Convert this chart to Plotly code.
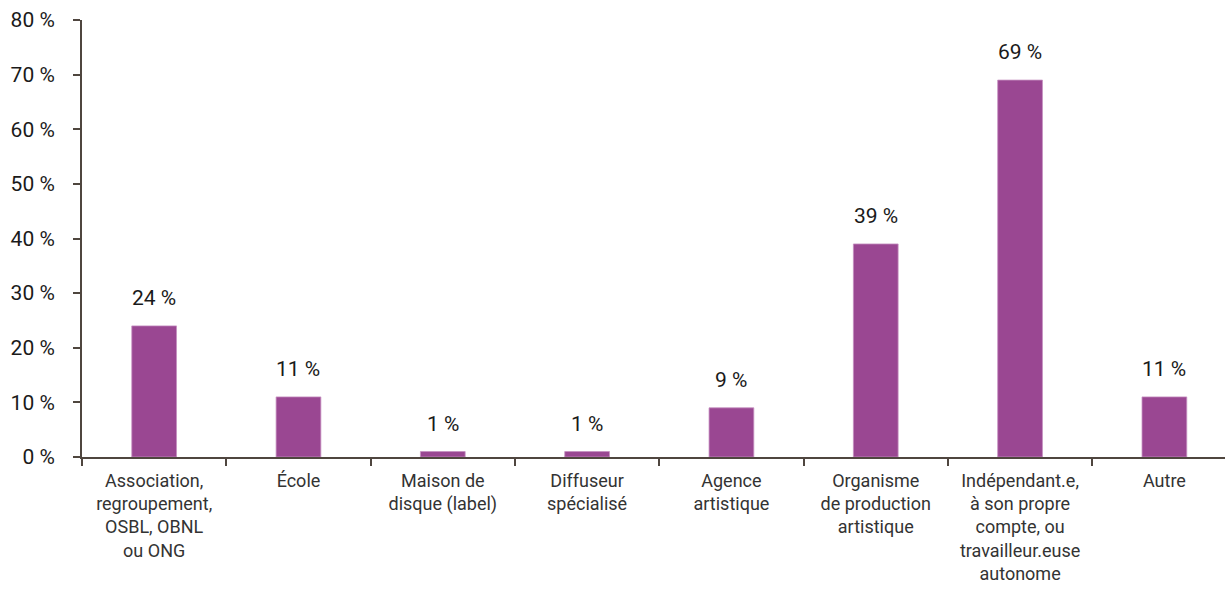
import plotly.graph_objects as go

# Categories (x-axis labels, with line breaks) and percentage values
categories = [
    "Association,<br>regroupement,<br>OSBL, OBNL<br>ou ONG",
    "École",
    "Maison de<br>disque (label)",
    "Diffuseur<br>spécialisé",
    "Agence<br>artistique",
    "Organisme<br>de production<br>artistique",
    "Indépendant.e,<br>à son propre<br>compte, ou<br>travailleur.euse<br>autonome",
    "Autre",
]
values = [24, 11, 1, 1, 9, 39, 69, 11]
value_labels = [f"{v} %" for v in values]

bar_color = "#9A4792"
axis_color = "#4F463F"
font_family = "Roboto, 'Open Sans', sans-serif"

fig = go.Figure()
fig.add_trace(go.Bar(
    x=categories,
    y=values,
    marker=dict(color=bar_color, line=dict(color="#C58FC0", width=0.8)),
    width=0.31,
    hoverinfo="skip",
))

# Value labels above each bar
for cat, v, lab in zip(categories, values, value_labels):
    fig.add_annotation(
        x=cat, y=v, xref="x", yref="y",
        text=lab, showarrow=False,
        yanchor="bottom", yshift=14,
        font=dict(family=font_family, size=21, color="#1A1A1A"),
    )

fig.update_layout(
    width=1225, height=589,
    margin=dict(l=82, r=0, t=20, b=132, pad=0),
    plot_bgcolor="white",
    paper_bgcolor="white",
    showlegend=False,
    bargap=0.69,
    font=dict(family=font_family, color="#333333"),
)

fig.update_xaxes(
    type="category",
    range=[-0.5, 7.42],
    showline=True, linecolor=axis_color, linewidth=2,
    ticks="outside", tickson="boundaries", ticklen=7, tickwidth=1.5, tickcolor=axis_color,
    tickfont=dict(family=font_family, size=18, color="#333333"),
    ticklabelstandoff=6,
    showgrid=False, zeroline=False,
)

fig.update_yaxes(
    range=[0, 80],
    dtick=10, tick0=0,
    ticksuffix=" %",
    showline=True, linecolor=axis_color, linewidth=2,
    ticks="outside", ticklen=7, tickwidth=1.5, tickcolor=axis_color,
    tickfont=dict(family=font_family, size=21, color="#1A1A1A"),
    ticklabelstandoff=14,
    showgrid=False, zeroline=False,
)

fig.write_html("out.html")
